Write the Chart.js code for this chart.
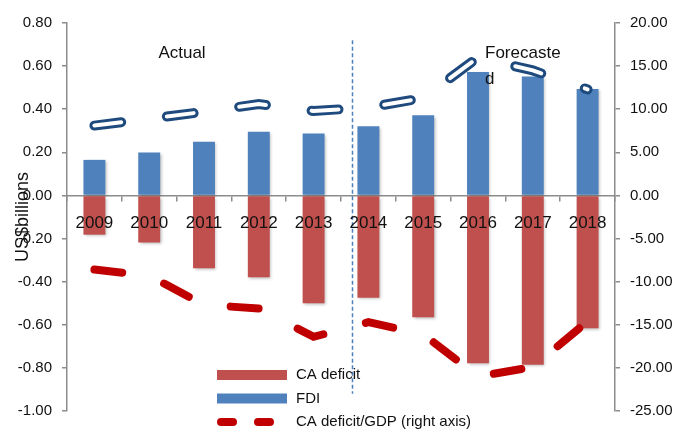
<!DOCTYPE html>
<html>
<head>
<meta charset="utf-8">
<script src="https://cdn.jsdelivr.net/npm/chart.js@4/dist/chart.umd.min.js"></script>
<style>
  html, body { margin: 0; padding: 0; background: #fff; }
  #wrap { width: 676px; height: 430px; }
</style>
</head>
<body>
<div id="wrap"><canvas id="chart" width="676" height="430"></canvas></div>
<script>
const years = ['2009', '2010', '2011', '2012', '2013', '2014', '2015', '2016', '2017', '2018'];
// US$ billions, left axis
const caDeficit = [-0.182, -0.218, -0.338, -0.380, -0.500, -0.475, -0.565, -0.778, -0.785, -0.616];
const fdi = [0.165, 0.199, 0.249, 0.295, 0.287, 0.321, 0.372, 0.573, 0.552, 0.494];
// % of GDP, right axis
const caDeficitGdp = [-8.6, -9.3, -12.7, -13.1, -16.4, -14.7, -16.1, -21.0, -19.9, -14.6];
const fdiGdp = [8.1, 8.9, 9.7, 10.6, 9.8, 10.2, 11.3, 16.0, 14.5, 12.3];

const leftRange = [-1, 0.8, 0.2];
const rightRange = [-25, 20, 5];
const forecastFrom = 4.7; // x position (category index) of the actual/forecast divider

const FONT = "'Liberation Sans', Arial, sans-serif";
const TEXT = '#111';
const AXIS = '#8c8c8c';
const RED_BAR = '#C0504D';
const BLUE_BAR = '#4F81BD';

Chart.defaults.font.family = FONT;
Chart.defaults.color = TEXT;

// soft drop shadow under the bars
const barShadow = {
  id: 'barShadow',
  beforeDatasetDraw(chart, args) {
    if (args.meta.type !== 'bar') return;
    const ctx = chart.ctx;
    ctx.save();
    ctx.shadowColor = 'rgba(0,0,0,0.28)';
    ctx.shadowBlur = 3;
    ctx.shadowOffsetX = 1.5;
    ctx.shadowOffsetY = 1.5;
  },
  afterDatasetDraw(chart, args) {
    if (args.meta.type !== 'bar') return;
    chart.ctx.restore();
  }
};

// divider, "Actual"/"Forecasted" notes and the axis title
const notes = {
  id: 'notes',
  afterDatasetsDraw(chart) {
    const ctx = chart.ctx;
    const { x, y } = chart.scales;
    const area = chart.chartArea;
    ctx.save();
    const xd = Math.round(x.getPixelForValue(forecastFrom)) + 0.5;
    ctx.strokeStyle = '#4F81BD';
    ctx.lineWidth = 1.5;
    ctx.setLineDash([4, 2.5]);
    ctx.beginPath();
    ctx.moveTo(xd, y.getPixelForValue(0.72));
    ctx.lineTo(xd, y.getPixelForValue(-0.92));
    ctx.stroke();
    ctx.setLineDash([]);

    ctx.fillStyle = TEXT;
    ctx.font = '17px ' + FONT;
    ctx.textBaseline = 'middle';
    ctx.textAlign = 'center';
    ctx.fillText('Actual', 182, 53);
    ctx.textAlign = 'left';
    ctx.fillText('Forecaste', 485, 53);
    ctx.fillText('d', 485, 79);

    ctx.translate(23, (area.top + area.bottom) / 2);
    ctx.rotate(-Math.PI / 2);
    ctx.textAlign = 'center';
    ctx.font = '18px ' + FONT;
    ctx.fillText('US$billions', 0, 0);
    ctx.restore();
  }
};

// legend sitting inside the plot, lower middle
const insetLegend = {
  id: 'insetLegend',
  afterDraw(chart) {
    const ctx = chart.ctx;
    const left = 217, top = 375, rowH = 23.5, sw = 70;
    const items = chart.data.datasets.filter(d => d.inLegend);
    ctx.save();
    items.forEach((ds, i) => {
      const cy = top + i * rowH;
      if (cy > chart.height) return;
      if (ds.type === 'bar') {
        ctx.fillStyle = ds.backgroundColor;
        ctx.fillRect(left, cy - 5, sw, 10);
      } else {
        ctx.strokeStyle = ds.borderColor;
        ctx.lineWidth = ds.borderWidth;
        ctx.lineCap = 'round';
        ctx.setLineDash([12, 25]);
        ctx.beginPath();
        ctx.moveTo(left + 4, cy);
        ctx.lineTo(left + sw - 4, cy);
        ctx.stroke();
        ctx.setLineDash([]);
      }
      ctx.fillStyle = TEXT;
      ctx.font = '15px ' + FONT;
      ctx.textAlign = 'left';
      ctx.textBaseline = 'middle';
      ctx.fillText(ds.label, left + 79, cy);
    });
    ctx.restore();
  }
};

new Chart(document.getElementById('chart'), {
  data: {
    labels: years,
    datasets: [
      {
        type: 'bar', label: 'CA deficit', data: caDeficit, yAxisID: 'y',
        backgroundColor: RED_BAR, grouped: false, barPercentage: 0.5, categoryPercentage: 0.8,
        order: 2, inLegend: true
      },
      {
        type: 'bar', label: 'FDI', data: fdi, yAxisID: 'y',
        backgroundColor: BLUE_BAR, grouped: false, barPercentage: 0.5, categoryPercentage: 0.8,
        order: 2, inLegend: true
      },
      {
        type: 'line', label: 'CA deficit/GDP (right axis)', data: caDeficitGdp, yAxisID: 'y1',
        borderColor: '#C00000', borderWidth: 8, borderDash: [28, 44], borderCapStyle: 'round',
        pointRadius: 0, tension: 0, fill: false, order: 0, inLegend: true
      },
      {
        type: 'line', label: 'FDI/GDP (right axis)', data: fdiGdp, yAxisID: 'y1',
        borderColor: '#1F4A7E', borderWidth: 10, borderDash: [27, 46], borderCapStyle: 'round',
        pointRadius: 0, tension: 0, fill: false, order: 0, inLegend: true
      },
      {
        // white core of the FDI/GDP line
        type: 'line', label: '', data: fdiGdp, yAxisID: 'y1',
        borderColor: '#ffffff', borderWidth: 4, borderDash: [27, 46], borderCapStyle: 'round',
        pointRadius: 0, tension: 0, fill: false, order: -1, inLegend: false
      }
    ]
  },
  options: {
    responsive: false,
    animation: false,
    layout: { padding: { left: 0, right: 0, top: 23, bottom: 18 } },
    plugins: {
      legend: { display: false },
      tooltip: { enabled: false }
    },
    scales: {
      x: {
        type: 'category',
        position: { y: 0 },
        offset: true,
        grid: { offset: true, drawOnChartArea: false, drawTicks: true, tickLength: 5, color: AXIS, lineWidth: 1.5 },
        border: { color: AXIS, width: 1.5 },
        // year labels sit on top of the bars
        ticks: { z: 1, color: TEXT, font: { size: 17 }, padding: 13, maxRotation: 0, autoSkip: false }
      },
      y: {
        position: 'left',
        min: leftRange[0], max: leftRange[1],
        grid: { drawOnChartArea: false, tickLength: 5, color: AXIS, lineWidth: 1.5 },
        border: { color: AXIS, width: 1.5 },
        ticks: { stepSize: leftRange[2], padding: 10, font: { size: 15 }, color: TEXT,
                 callback: v => Number(v).toFixed(2) },
        afterFit(s) { s.width = 67; }
      },
      y1: {
        position: 'right',
        min: rightRange[0], max: rightRange[1],
        grid: { drawOnChartArea: false, tickLength: 5, color: AXIS, lineWidth: 1.5 },
        border: { color: AXIS, width: 1.5 },
        ticks: { stepSize: rightRange[2], padding: 10, font: { size: 15 }, color: TEXT,
                 callback: v => Number(v).toFixed(2) },
        afterFit(s) { s.width = 61; }
      }
    }
  },
  plugins: [barShadow, notes, insetLegend]
});
</script>
</body>
</html>
